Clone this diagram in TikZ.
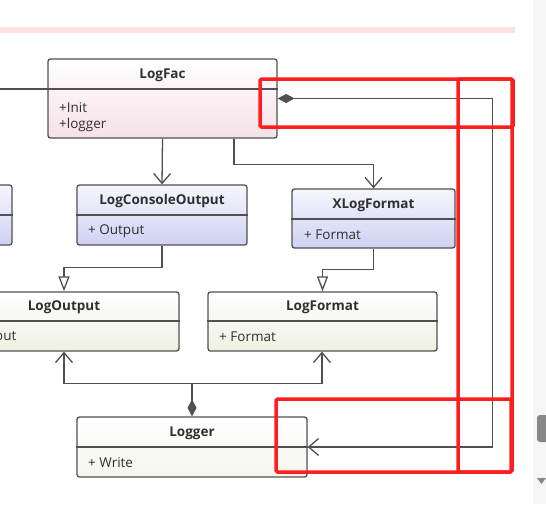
\documentclass[tikz,border=0pt]{standalone}
\usepackage{fontspec}
\setmainfont{Open Sans}
\usetikzlibrary{arrows.meta}
\definecolor{linec}{HTML}{505050}
\definecolor{txt}{HTML}{303030}
\definecolor{pinkb}{HTML}{F5E0E8}
\definecolor{blueb}{HTML}{CFD1F3}
\definecolor{blueT}{HTML}{F6F6FD}
\definecolor{greenb}{HTML}{EEF1E2}
\definecolor{ivoryb}{HTML}{F6F6EC}
\definecolor{redmark}{HTML}{FF1E1E}
\definecolor{band}{HTML}{FCE1E1}
\tikzset{
  cls/.style={draw=linec, line width=1.3pt, rounded corners=2.5pt, inner sep=0pt},
  divl/.style={draw=linec, line width=1.3pt},
  ttl/.style={font=\bfseries\fontsize{13.5}{15}\selectfont, text=txt, inner sep=0pt},
  bdy/.style={font=\fontsize{13.5}{16}\selectfont, text=txt, inner sep=0pt, anchor=west, align=left},
  conn/.style={draw=linec, line width=1.3pt},
  pinkfill/.style={top color=white, bottom color=pinkb},
  bluefill/.style={top color=blueT, bottom color=blueb},
  greenfill/.style={top color=white, bottom color=greenb},
  ivoryfill/.style={top color=white, bottom color=ivoryb},
  redbox/.style={draw=redmark, line width=3.5pt, rounded corners=1.5pt},
  barb/.tip={Straight Barb[length=10pt,width=17pt,line width=1.3pt]},
  hollow/.tip={Triangle[open,length=15pt,width=11pt,line width=1.3pt,fill=white]},
  dmd/.tip={Diamond[length=17pt,width=9pt,fill=linec]},
}
\newcommand{\umlcls}[8]{%
  \node[cls,#7,minimum width={#4-#2},minimum height={#5-#3}] (#1) at ({(#2+#4)/2},{(#3+#5)/2}) {};
  \draw[divl] (#1.west |- 0,#6) -- (#1.east |- 0,#6);
  \node[ttl] (#1-t) at ({(#2+#4)/2},{(#3+#6)/2+1}) {#8};
}
\begin{document}
\begin{tikzpicture}[x=1pt,y=-1pt]
\useasboundingbox (0,0) rectangle (546,504);
\clip (0,0) rectangle (546,504);
\fill[white] (0,0) rectangle (546,504);
% top band and scrollbar strip
\fill[band] (0,27) rectangle (515,33);
\fill[black!4] (533,0) rectangle (546,504);
\fill[black!47, rounded corners=3pt] (537,415) rectangle (550,442);
\fill[black!47] (537,478) -- (546,478) -- (541.5,484) -- cycle;

% classes
\umlcls{logfac}{48}{59}{277}{138}{89}{pinkfill}{LogFac}
\node[bdy, anchor=north west] (logfac-b) at (59,102.5) {+Init\\+logger};
\umlcls{console}{77}{185}{247}{245}{215}{bluefill}{LogConsoleOutput}
\node[bdy] (console-b) at (88,231) {+ Output};
\umlcls{leftbox}{-110}{185}{12}{245}{215}{bluefill}{}
\umlcls{xlog}{292}{189}{455}{248}{219}{bluefill}{XLogFormat}
\node[bdy] (xlog-b) at (304,235) {+ Format};
\umlcls{logout}{-51}{292}{179}{351}{321}{greenfill}{LogOutput}
\node[bdy] (logout-b) at (-40,337) {+ Output};
\umlcls{logformat}{208}{292}{437}{351}{321}{greenfill}{LogFormat}
\node[bdy] (logformat-b) at (219,337) {+ Format};
\umlcls{logger}{77}{417}{307}{477}{447}{ivoryfill}{Logger}
\node[bdy] (logger-b) at (88,463) {+ Write};

% connectors
\coordinate (leftend) at (0,89);
\draw[conn] (leftend) -- (logfac.west |- 0,89);
\draw[conn,-barb] (logfac.south) -- (console.north);
\draw[conn,-barb] ([xshift=71.5pt]logfac.south) -- ++(0,26) -| (xlog.north);
\draw[conn,-hollow] (console.south) -- ++(0,22) -| (logout.north);
\draw[conn,-hollow] (xlog.south) -- ++(0,21) -| (logformat.north);
\draw[conn,dmd-] (logger.north) -- ++(0,-33) coordinate (agg);
\draw[conn,-barb] (agg) -| (logout.south);
\draw[conn,-barb] (agg) -| ([xshift=-0.5pt]logformat.south);
\draw[conn,dmd-barb] (logfac.east) -- ++(215,0) |- (logger.east);

% red annotation boxes
\draw[redbox] (260,79) rectangle (513,127);
\draw[redbox] (458,79) rectangle (512,472);
\draw[redbox] (276,399) rectangle (511,472);
\end{tikzpicture}
\end{document}
